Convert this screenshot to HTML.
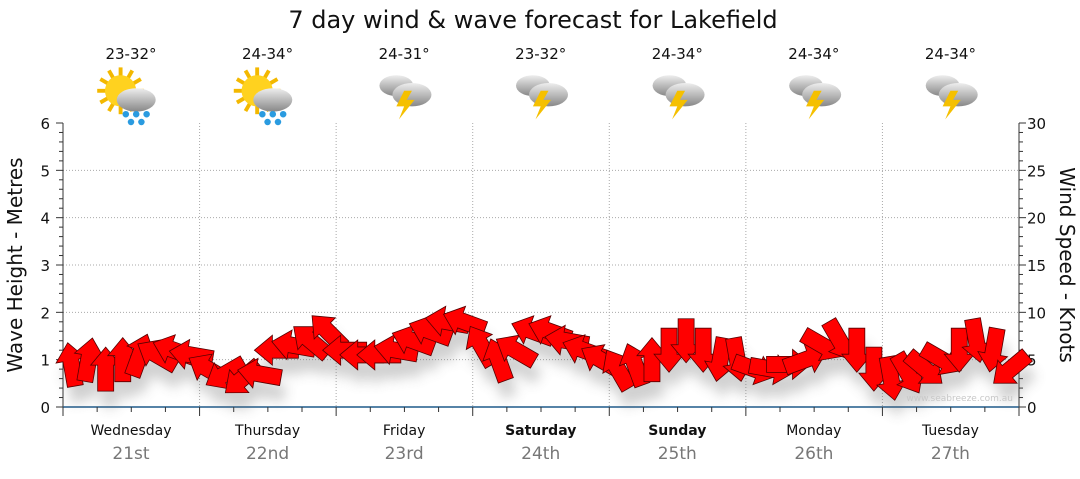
<!DOCTYPE html>
<html><head><meta charset="utf-8"><style>
body{margin:0;background:#fff;font-family:"DejaVu Sans",sans-serif}
svg text{font-family:"DejaVu Sans","Liberation Sans",sans-serif}
</style></head><body>
<svg id="c" width="1080" height="475" viewBox="0 0 1080 475" xmlns="http://www.w3.org/2000/svg">
<defs>
<filter id="sh" x="-50%" y="-50%" width="200%" height="200%"><feGaussianBlur stdDeviation="6"/></filter>
<linearGradient id="cl" x1="0" y1="0" x2="0" y2="1"><stop offset="0" stop-color="#eee"/><stop offset="1" stop-color="#888"/></linearGradient>
</defs>
<text x="533" y="28" font-size="24" text-anchor="middle" fill="#111">7 day wind &amp; wave forecast for Lakefield</text>
<g id="grid"></g>
<g id="icons"></g>
<g id="shadows" filter="url(#sh)" opacity="0.3"></g>
<g id="arrows"></g>
<text x="1013" y="401" font-size="9" text-anchor="end" fill="#c8c8c8">www.seabreeze.com.au</text>
<text transform="translate(22,265) rotate(-90)" font-size="20" text-anchor="middle" fill="#111">Wave Height - Metres</text>
<text transform="translate(1060,265) rotate(90)" font-size="20" text-anchor="middle" fill="#111">Wind Speed - Knots</text>
</svg>
<script>
const days=["Wednesday","Thursday","Friday","Saturday","Sunday","Monday","Tuesday"];
const dates=["21st","22nd","23rd","24th","25th","26th","27th"];
const temps=["23-32°","24-34°","24-31°","23-32°","24-34°","24-34°","24-34°"];
const icons=["rain","rain","storm","storm","storm","storm","storm"];
const leftTicks=[0,1,2,3,4,5,6];
const rightTicks=[0,5,10,15,20,25,30];
const windSpeed=[4.5,5,4,5,5.5,5.5,6,5.5, 4,3.5,3,3.5,6,6.5,7,8, 6,5.5,5.5,6,7,8,9,9, 6.5,5,6,8,8,7,6,5, 4,4.5,5,6,7,6,5,5, 4,4,4.5,5,6.5,7,6,4, 3,3.5,4,5,6,7,6,4];
const windDir=[-100,-80,-90,-90,-70,-150,-160,-170, -150,150,140,-170,180,-170,-140,-135, 180,180,180,-170,-160,-160,-170,-160, -120,-110,-150,-160,-160,-170,-160,-150, -120,-110,-90,90,90,90,100,80, 20,10,0,-20,30,60,90,90, 80,60,40,30,90,80,100,140];
const NS="http://www.w3.org/2000/svg";
const X0=63,X1=1019,Y0=407,Y1=123;
const xs=i=>X0+(X1-X0)*i/7;
const yL=v=>Y0-(Y0-Y1)*v/6;
const yR=v=>Y0-(Y0-Y1)*v/30;
function mk(tag,attrs,parent){const e=document.createElementNS(NS,tag);for(const k in attrs)e.setAttribute(k,attrs[k]);parent.appendChild(e);return e;}
const grid=document.getElementById('grid');
for(let i=1;i<7;i++){const l=mk('line',{x1:xs(i),x2:xs(i),y1:Y1,y2:Y0,stroke:'#aaa','stroke-dasharray':'1,2'},grid);

}
leftTicks.forEach(v=>{if(v>0&&v<6){const l=mk('line',{x1:X0,x2:X1,y1:yL(v),y2:yL(v),stroke:'#aaa','stroke-dasharray':'1,2'},grid);

}
const t=mk('text',{x:50,y:yL(v)+6,'font-size':15,'text-anchor':'end',fill:'#111'},grid);t.textContent=v;

});
rightTicks.forEach(v=>{const t=mk('text',{x:1027,y:yR(v)+6,'font-size':15,fill:'#111'},grid);t.textContent=v;

});
for(let k=0;k<=30;k++){const y=Y0-(Y0-Y1)*k/30;mk('line',{x1:X0-(k%5?4:7),x2:X0,y1:y,y2:y,stroke:'#333'},grid);mk('line',{x1:X1,x2:X1+(k%5?4:7),y1:y,y2:y,stroke:'#333'},grid);}
mk('line',{x1:X0,x2:X0,y1:Y1,y2:Y0,stroke:'#333'},grid);
mk('line',{x1:X1,x2:X1,y1:Y1,y2:Y0,stroke:'#333'},grid);
mk('line',{x1:X0,x2:X1,y1:Y0,y2:Y0,stroke:'#1f5a8a','stroke-width':1.5},grid);
for(let k=0;k<=28;k++){const x=X0+(X1-X0)*k/28;mk('line',{x1:x,x2:x,y1:Y0,y2:Y0+(k%4?5:9),stroke:'#333'},grid);}
const ic=document.getElementById('icons');
days.forEach((d,i)=>{const cx=xs(i)+68;
const a=mk('text',{x:cx,y:435,'font-size':14,'text-anchor':'middle',fill:'#111','font-weight':(i==3||i==4)?'bold':'normal'},grid);a.textContent=d;


const b=mk('text',{x:cx,y:459,'font-size':17,'text-anchor':'middle',fill:'#777'},grid);b.textContent=dates[i];


const t=mk('text',{x:cx,y:59,'font-size':15,'text-anchor':'middle',fill:'#111'},ic);t.textContent=temps[i];


const g=mk('g',{transform:`translate(${cx},96) scale(1.3)`},ic);


if(icons[i]=='rain'){
for(let r=0;r<12;r++){const an=r*30*Math.PI/180;mk('line',{x1:-8+Math.cos(an)*10,y1:-4+Math.sin(an)*10,x2:-8+Math.cos(an)*18,y2:-4+Math.sin(an)*18,stroke:'#f3b800','stroke-width':3},g);}
mk('circle',{cx:-8,cy:-4,r:12,fill:'#ffd21f'},g);
mk('ellipse',{cx:4,cy:3,rx:15,ry:9,fill:'url(#cl)'},g);
[[-4,14],[4,14],[12,14],[0,20],[8,20]].forEach(p=>mk('circle',{cx:p[0],cy:p[1],r:2.5,fill:'#2a9be0'},g));
}else{
mk('ellipse',{cx:-6,cy:-8,rx:13,ry:8,fill:'url(#cl)'},g);
mk('ellipse',{cx:6,cy:-1,rx:15,ry:9,fill:'url(#cl)'},g);
mk('polygon',{points:'0,-4 -6,8 0,8 -4,18 8,3 2,3 6,-4',fill:'#f5c000'},g);}
});
const ar=document.getElementById('arrows'),sh=document.getElementById('shadows');
const shape='-22,-8 4,-8 4,-15 22,0 4,15 4,8 -22,8';
windSpeed.forEach((s,i)=>{const x=X0+(X1-X0)*(i+0.5)/windSpeed.length,y=yR(s);
mk('polygon',{points:shape,fill:'#666',transform:`translate(${x+4},${y+16}) rotate(${windDir[i]})`},sh);
const p=mk('polygon',{points:shape,fill:'#ff0000',stroke:'#500','stroke-width':0.8,transform:`translate(${x},${y}) rotate(${windDir[i]})`},ar);

});
</script>
</body></html>
